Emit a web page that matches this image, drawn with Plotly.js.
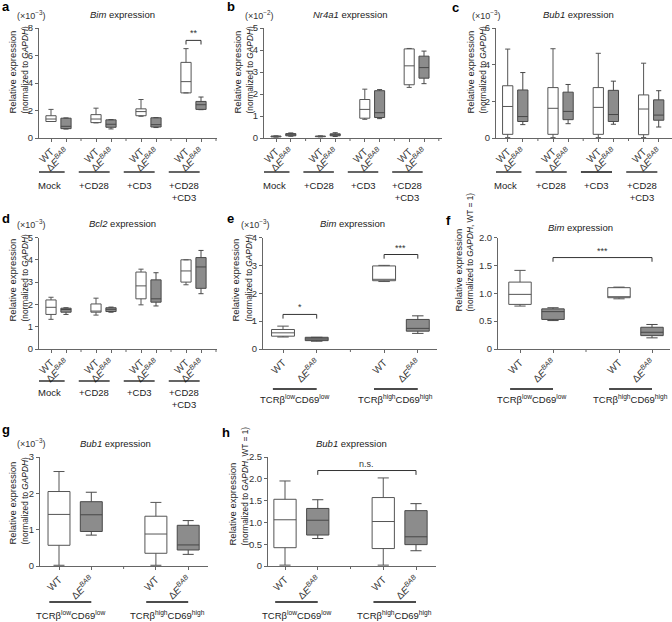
<!DOCTYPE html>
<html><head><meta charset="utf-8">
<script src="https://cdn.plot.ly/plotly-3.0.1.min.js"></script>
<style>html,body{margin:0;padding:0;background:#fff}#chart{width:672px;height:622px}</style>
</head><body><div id="chart"></div>
<script>
// ================= DATA =================
const groupsStim = ['Mock', '+CD28', '+CD3', '+CD28<br>+CD3'];
const groupsTCR = ['TCRβ<sup>low</sup>CD69<sup>low</sup>', 'TCRβ<sup>high</sup>CD69<sup>high</sup>'];
const genotypeLabels = ['WT', 'Δ<i>E</i><sup><i>BAB</i></sup>'];
const panelLetters = ['a', 'b', 'c', 'd', 'e', 'f', 'g', 'h'];
const panelTitles = ['<i>Bim</i> expression', '<i>Nr4a1</i> expression', '<i>Bub1</i> expression', '<i>Bcl2</i> expression',
                     '<i>Bim</i> expression', '<i>Bim</i> expression', '<i>Bub1</i> expression', '<i>Bub1</i> expression'];
const scaleLabels = ['(×10<sup>−3</sup>)', '(×10<sup>−2</sup>)', '(×10<sup>−3</sup>)', '(×10<sup>−3</sup>)',
                     '(×10<sup>−3</sup>)', '', '(×10<sup>−3</sup>)', ''];
const yTitleLine1 = 'Relative expression';
const yTitleAbs = '(normalized to <i>GAPDH</i>)';
const yTitleRel = '(normalized to <i>GAPDH</i>, WT = 1)';
const yMaxes = [8, 5, 6, 5, 4, 2, 3, 2.5];
const yTickVals = [[0,2,4,6,8],[0,1,2,3,4,5],[0,2,4,6],[0,1,2,3,4,5],[0,1,2,3,4],[0,0.5,1,1.5,2],[0,1,2,3],[0,0.5,1,1.5,2,2.5]];
const yTickText = [['0','2','4','6','8'],['0','1','2','3','4','5'],['0','2','4','6'],['0','1','2','3','4','5'],['0','1','2','3','4'],
                   ['0','0.5','1.0','1.5','2.0'],['0','1','2','3'],['0','0.5','1.0','1.5','2.0','2.5']];

// box statistics per group: [lower whisker, Q1, median, Q3, upper whisker]
const bimStim_WT   = [[1.2,1.2,1.38,1.62,2.08],[1.1,1.12,1.38,1.7,2.17],[1.58,1.62,1.92,2.12,2.8],[3.28,3.28,4.1,5.5,6.5]];
const bimStim_dE   = [[0.65,0.68,0.85,1.44,1.46],[0.66,0.78,1.0,1.32,1.34],[0.76,0.8,0.97,1.47,1.48],[2.06,2.08,2.42,2.66,2.98]];
const nr4a1Stim_WT = [[0.04,0.05,0.07,0.09,0.1],[0.05,0.06,0.07,0.09,0.1],[0.85,0.9,1.3,1.75,2.22],[2.3,2.42,3.28,4.05,4.07]];
const nr4a1Stim_dE = [[0.08,0.1,0.14,0.2,0.23],[0.07,0.1,0.14,0.19,0.24],[0.88,0.93,1.15,2.15,2.2],[2.47,2.72,3.2,3.72,3.95]];
const bub1Stim_WT  = [[0.02,0.2,1.72,2.85,4.85],[0.02,0.2,1.62,2.75,4.87],[0.02,0.2,1.67,2.75,4.62],[0.02,0.18,1.58,2.35,4.08]];
const bub1Stim_dE  = [[0.73,0.9,1.17,2.62,3.57],[0.78,1.0,1.45,2.5,2.92],[0.75,0.9,1.28,2.6,3.1],[0.6,0.97,1.25,2.08,2.58]];
const bcl2Stim_WT  = [[1.33,1.55,1.87,2.2,2.32],[1.52,1.65,1.7,2.02,2.28],[1.98,2.25,2.83,3.45,3.58],[2.88,3.0,3.5,4.0,4.0]];
const bcl2Stim_dE  = [[1.55,1.65,1.77,1.83,1.85],[1.65,1.68,1.78,1.85,1.88],[1.93,2.1,2.25,3.1,3.42],[2.48,2.72,3.68,4.1,4.42]];
const bimTCR_WT    = [[0.43,0.46,0.58,0.7,0.82],[2.42,2.45,2.5,2.98,3.0]];
const bimTCR_dE    = [[0.28,0.3,0.36,0.42,0.42],[0.56,0.64,0.74,1.06,1.19]];
const bimTCRrel_WT = [[0.77,0.8,0.98,1.2,1.41],[0.9,0.92,0.93,1.1,1.11]];
const bimTCRrel_dE = [[0.51,0.53,0.67,0.72,0.74],[0.2,0.24,0.3,0.39,0.44]];
const bub1TCR_WT   = [[0.02,0.57,1.42,2.05,2.6],[0.02,0.35,0.88,1.37,1.75]];
const bub1TCR_dE   = [[0.85,0.95,1.41,1.77,2.03],[0.32,0.44,0.58,1.12,1.25]];
const bub1TCRrel_WT= [[0.02,0.42,1.06,1.53,1.95],[0.02,0.4,1.02,1.57,2.02]];
const bub1TCRrel_dE= [[0.63,0.71,1.05,1.32,1.52],[0.35,0.49,0.67,1.27,1.43]];

// significance: [label, box index A, box index B] (box index = 2*group + genotype)
const sigA = [['**', 6, 7]];
const sigE = [['*', 0, 1], ['***', 2, 3]];
const sigF = [['***', 1, 3]];
const sigH = [['n.s.', 1, 3]];

// ================= GEOMETRY / STYLE =================
const W = 672, H = 622;
const FONT = 'Liberation Sans, Arial, Helvetica, sans-serif';
const geom = [
  {x0:39,  x1:217, s0:51,    sp:15,   top:28,    bot:138, ul:172, lab:178, yt1:12,  yt2:24,  yts:116, ttx:122, tty:15,  scx:31,  ltx:6,   lty:6},
  {x0:264, x1:442, s0:276,   sp:14.8, top:28,    bot:138, ul:172, lab:178, yt1:237, yt2:249, yts:116, ttx:350, tty:15,  scx:259, ltx:231, lty:6},
  {x0:496, x1:672, s0:507.7, sp:15.1, top:28,    bot:138, ul:172, lab:178, yt1:470, yt2:482, yts:116, ttx:578, tty:15,  scx:486, ltx:455, lty:8},
  {x0:39,  x1:217, s0:51,    sp:15,   top:237.5, bot:349, ul:381, lab:385, yt1:12,  yt2:24,  yts:324, ttx:123, tty:224, scx:31,  ltx:6,   lty:218},
  {x0:263, x1:437, s0:283,   sp:33.7, top:237.5, bot:349, ul:389, lab:391, yt1:235, yt2:248, yts:324, ttx:352, tty:224, scx:255, ltx:230, lty:218},
  {x0:498, x1:670, s0:520,   sp:33,   top:237.5, bot:349, ul:389, lab:391, yt1:458, yt2:470, yts:314, ttx:580, tty:227, scx:0,   ltx:448, lty:220},
  {x0:40,  x1:208, s0:59,    sp:32.3, top:457,   bot:566, ul:602, lab:607, yt1:12,  yt2:24,  yts:547, ttx:115, tty:443, scx:31,  ltx:6,   lty:429},
  {x0:268, x1:436, s0:285,   sp:32.75,top:457,   bot:566, ul:602, lab:607, yt1:232, yt2:244, yts:548, ttx:351, tty:443, scx:0,   ltx:226, lty:432},
];

const panels = [
  {wt:bimStim_WT,   de:bimStim_dE,   groups:groupsStim, yTitle:yTitleAbs, sig:sigA, sigY:[7.1],       leg:0.3},
  {wt:nr4a1Stim_WT, de:nr4a1Stim_dE, groups:groupsStim, yTitle:yTitleAbs, sig:[],   sigY:[],          leg:0},
  {wt:bub1Stim_WT,  de:bub1Stim_dE,  groups:groupsStim, yTitle:yTitleAbs, sig:[],   sigY:[],          leg:0},
  {wt:bcl2Stim_WT,  de:bcl2Stim_dE,  groups:groupsStim, yTitle:yTitleAbs, sig:[],   sigY:[],          leg:0},
  {wt:bimTCR_WT,    de:bimTCR_dE,    groups:groupsTCR,  yTitle:yTitleAbs, sig:sigE, sigY:[1.24,3.39], leg:0.15},
  {wt:bimTCRrel_WT, de:bimTCRrel_dE, groups:groupsTCR,  yTitle:yTitleRel, sig:sigF, sigY:[1.64],      leg:0.075},
  {wt:bub1TCR_WT,   de:bub1TCR_dE,   groups:groupsTCR,  yTitle:yTitleAbs, sig:[],   sigY:[],          leg:0},
  {wt:bub1TCRrel_WT,de:bub1TCRrel_dE,groups:groupsTCR,  yTitle:yTitleRel, sig:sigH, sigY:[2.19],      leg:0.1},
];

const AX = '#666', TXT = '#333';
const px = p => p / W, py = p => 1 - p / H;
const data = [];
const layout = {
  width: W, height: H, margin: {l:0, r:0, t:0, b:0}, showlegend: false,
  paper_bgcolor: '#fff', plot_bgcolor: 'rgba(0,0,0,0)',
  font: {family: FONT, size: 9, color: TXT},
  annotations: [], shapes: []
};

panels.forEach((p, i) => {
  const n = i + 1, g = geom[i];
  const xk = n === 1 ? 'xaxis' : 'xaxis' + n, yk = n === 1 ? 'yaxis' : 'yaxis' + n;
  const xr = n === 1 ? 'x' : 'x' + n, yr = n === 1 ? 'y' : 'y' + n;
  const range = [(g.x0 - g.s0) / g.sp, (g.x1 - g.s0) / g.sp];
  const ng = p.groups.length;
  const wtX = p.groups.map((_, k) => 3 * k), deX = p.groups.map((_, k) => 3 * k + 1);
  const boxX = [], tt = [];
  wtX.forEach((v, k) => { boxX.push(v, deX[k]); tt.push(genotypeLabels[0], genotypeLabels[1]); });

  // small ticks at the empty slots between groups
  for (let s = 2; s <= 3 * ng - 1; s += 3) {
    if (s > range[1]) break;
    layout.shapes.push({type: 'line', xref: xr, yref: 'paper', x0: s, x1: s,
      y0: py(g.bot), y1: py(g.bot + 3), line: {color: AX, width: 1}});
  }
  layout[xk] = {
    domain: [px(g.x0), px(g.x1)], anchor: yr, range: range, type: 'linear',
    showgrid: false, zeroline: false, showline: true, linecolor: AX, linewidth: 1,
    ticks: 'outside', ticklen: 3, tickcolor: AX, tickwidth: 1,
    tickvals: boxX, ticktext: tt, tickangle: -45, tickfont: {family: FONT, size: 10, color: TXT},
    fixedrange: true
  };
  layout[yk] = {
    domain: [py(g.bot), py(g.top)], anchor: xr, range: [0, yMaxes[i]],
    showgrid: false, zeroline: false, showline: true, linecolor: AX, linewidth: 1,
    ticks: 'outside', ticklen: 3, tickcolor: AX, tickwidth: 1,
    tickvals: yTickVals[i], ticktext: yTickText[i], tickfont: {family: FONT, size: 9.5, color: TXT},
    fixedrange: true
  };

  const mk = (stats, xs, fill, lc) => ({
    type: 'box', xaxis: xr, yaxis: yr, x: xs,
    lowerfence: stats.map(s => s[0]), q1: stats.map(s => s[1]), median: stats.map(s => s[2]),
    q3: stats.map(s => s[3]), upperfence: stats.map(s => s[4]),
    width: 0.68, whiskerwidth: 0.5, fillcolor: fill, line: {color: lc, width: 1},
    hoverinfo: 'skip', boxpoints: false
  });
  data.push(mk(p.wt, wtX, '#ffffff', '#555555'));
  data.push(mk(p.de, deX, '#8c8c8c', '#484848'));

  // group underlines and labels
  const off = ng === 4 ? -0.62 : -0.15, hw = ng === 4 ? 1.03 : 0.65;
  p.groups.forEach((lab, k) => {
    const c = 3 * k + 0.5 + off;
    layout.shapes.push({type: 'line', xref: xr, yref: 'paper', x0: c - hw, x1: c + hw,
      y0: py(g.ul), y1: py(g.ul), line: {color: '#111', width: 1.3}});
    layout.annotations.push({xref: xr, yref: 'paper', x: c, y: py(g.lab), text: lab,
      showarrow: false, xanchor: 'center', yanchor: 'top', font: {size: 9.5, color: '#222'}});
  });

  // significance brackets
  p.sig.forEach((s, k) => {
    const xa = boxX[s[1]], xb = boxX[s[2]], yv = p.sigY[k], y0 = yv - p.leg;
    layout.shapes.push({type: 'path', xref: xr, yref: yr,
      path: `M ${xa},${y0} L ${xa},${yv} L ${xb},${yv} L ${xb},${y0}`,
      line: {color: '#333', width: 1}});
    layout.annotations.push({xref: xr, yref: yr, x: (xa + xb) / 2, y: yv, text: s[0],
      showarrow: false, xanchor: 'center', yanchor: 'bottom', font: {size: 9, color: '#333'}});
  });

  // titles & labels
  layout.annotations.push({xref: 'paper', yref: 'paper', x: px(g.ttx), y: py(g.tty), text: panelTitles[i],
    showarrow: false, xanchor: 'center', yanchor: 'middle', font: {size: 9.5, color: '#222'}});
  if (scaleLabels[i]) layout.annotations.push({xref: 'paper', yref: 'paper', x: px(g.scx), y: py(g.tty),
    text: scaleLabels[i], showarrow: false, xanchor: 'center', yanchor: 'middle', font: {size: 9, color: '#333'}});
  layout.annotations.push({xref: 'paper', yref: 'paper', x: px(g.ltx), y: py(g.lty), text: '<b>' + panelLetters[i] + '</b>',
    showarrow: false, xanchor: 'center', yanchor: 'middle', font: {size: 13, color: '#000'}});
  layout.annotations.push({xref: 'paper', yref: 'paper', x: px(g.yt1), y: py(g.yts), text: yTitleLine1,
    showarrow: false, textangle: -90, xanchor: 'center', yanchor: 'bottom', font: {size: 9.5, color: '#222'}});
  layout.annotations.push({xref: 'paper', yref: 'paper', x: px(g.yt2), y: py(g.yts), text: p.yTitle,
    showarrow: false, textangle: -90, xanchor: 'center', yanchor: 'bottom', font: {size: 8.3, color: '#222'}});
});

Plotly.newPlot('chart', data, layout, {staticPlot: true, displayModeBar: false});
</script>
</body></html>
